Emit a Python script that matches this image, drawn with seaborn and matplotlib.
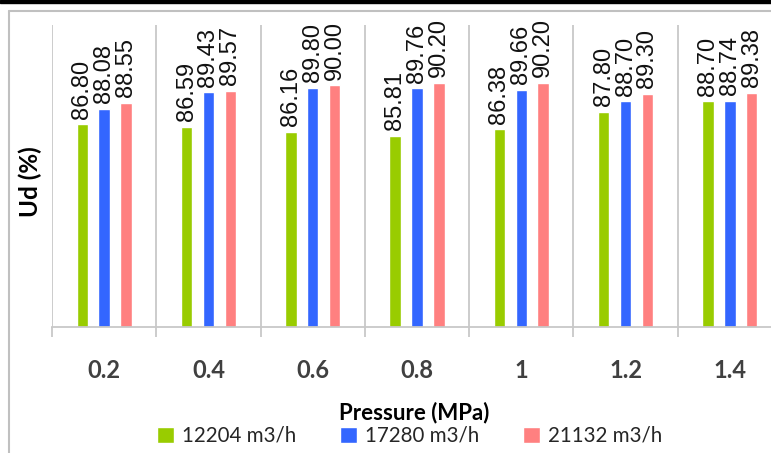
import pandas as pd
import seaborn as sns
import matplotlib.pyplot as plt
from matplotlib.lines import Line2D
from matplotlib.patches import Rectangle

# Data
pressures = ['0.2', '0.4', '0.6', '0.8', '1', '1.2', '1.4']
flow_labels = ['12204 m3/h', '17280 m3/h', '21132 m3/h']
ud_12204 = [86.80, 86.59, 86.16, 85.81, 86.38, 87.80, 88.70]
ud_17280 = [88.08, 89.43, 89.80, 89.76, 89.66, 88.70, 88.74]
ud_21132 = [88.55, 89.57, 90.00, 90.20, 90.20, 89.30, 89.38]
colors = ['#99CC00', '#3366FF', '#FF8080']


def main():
    rows = []
    for label, vals in zip(flow_labels, [ud_12204, ud_17280, ud_21132]):
        for p, v in zip(pressures, vals):
            rows.append({'pressure': p, 'flow': label, 'ud': v})
    df = pd.DataFrame(rows)

    sns.set_style('white')
    fig = plt.figure(figsize=(7.71, 4.53), dpi=100)
    W, H = 771, 453
    ax = fig.add_axes([52 / W, 1 - 327 / H, 730 / W, 302 / H])

    sns.barplot(data=df, x='pressure', y='ud', hue='flow', order=pressures,
                hue_order=flow_labels, palette=colors, saturation=1,
                width=0.63, gap=0.48, ax=ax)

    ax.set_ylim(70, 95)
    ax.set_xlim(-0.5, len(pressures) - 0.5)
    ax.set_yticks([])

    # value labels above bars
    for cont in ax.containers:
        ax.bar_label(cont, fmt='%.2f', rotation=90, padding=4,
                     fontsize=17, family='Liberation Sans', color='#111111')

    # category boundaries: gridlines + tick marks
    bounds = [i - 0.5 for i in range(len(pressures) + 1)]
    ax.set_xticks(bounds, minor=True)
    ax.grid(True, which='minor', axis='x', color='#C8C8C8', linewidth=1.3)
    ax.tick_params(axis='x', which='minor', length=7.5, width=1.3,
                   color='#C8C8C8', direction='out', bottom=True)
    ax.tick_params(axis='x', which='major', length=0, pad=23)
    ax.set_xticks(range(len(pressures)))
    ax.set_xticklabels(pressures, fontsize=17, fontweight='bold',
                       family='Lato', color='#404040')

    for s in ['top', 'right', 'left']:
        ax.spines[s].set_visible(False)
    ax.spines['bottom'].set_color('#C8C8C8')
    ax.spines['bottom'].set_linewidth(1.3)

    ax.set_xlabel('Pressure (MPa)', fontsize=16, fontweight='bold',
                  family='Lato', color='#000000')
    ax.xaxis.set_label_coords(0.496, -0.248)
    ax.set_ylabel('Ud (%)', fontsize=17.5, fontweight='bold',
                  family='Lato', color='#000000')
    ax.yaxis.set_label_coords(-0.013, 0.48)

    sns.move_legend(ax, 'center', bbox_to_anchor=(0.49, -0.36), ncol=3,
                    frameon=False, title=None, handlelength=0.82,
                    handleheight=0.82, handletextpad=0.42, columnspacing=2.1,
                    borderaxespad=0,
                    prop={'family': 'Lato', 'size': 14.8})

    # outer chart border and top black line
    gray = '#C0C0C0'
    fig.add_artist(Line2D([9 / W, 9 / W], [0, 1 - 11 / H], color=gray,
                          linewidth=1.5, transform=fig.transFigure))
    fig.add_artist(Line2D([9 / W, 1], [1 - 11 / H, 1 - 11 / H], color=gray,
                          linewidth=1.5, transform=fig.transFigure))
    fig.add_artist(Rectangle((0, 1 - 3 / H), 1, 3 / H, color='black',
                             transform=fig.transFigure))

    fig.savefig('out.png', dpi=100)
    plt.close(fig)


if __name__ == '__main__':
    main()
